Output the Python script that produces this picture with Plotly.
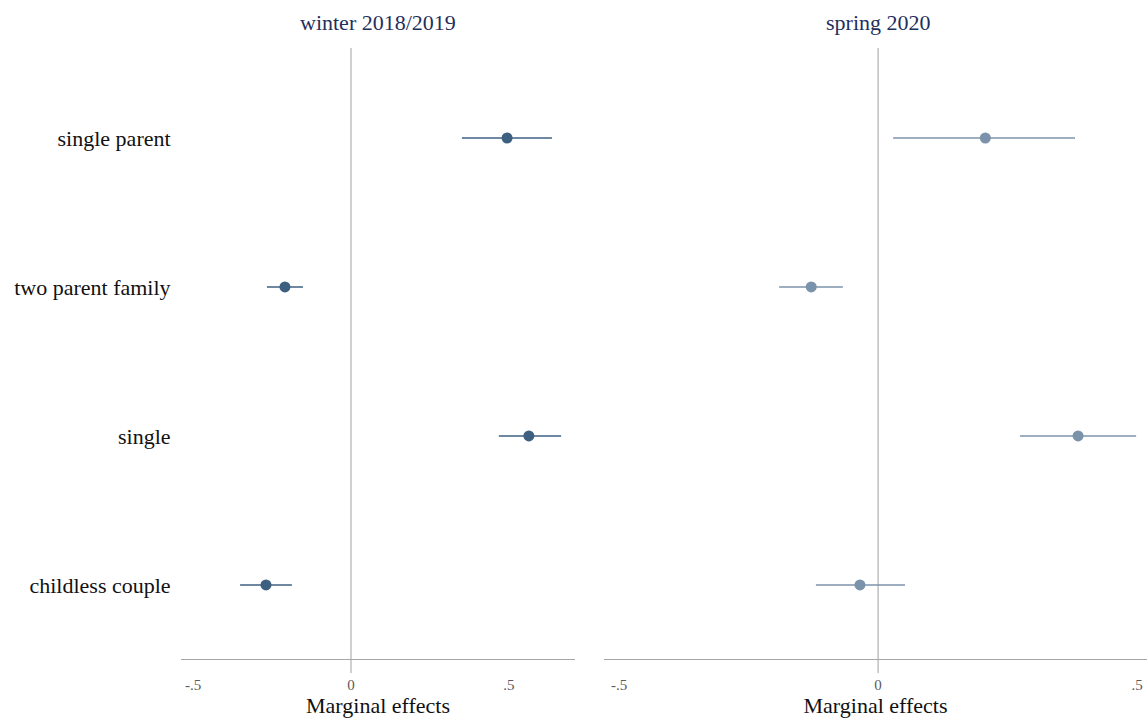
import plotly.graph_objects as go

categories = ["single parent", "two parent family", "single", "childless couple"]
cat_pos = [4, 3, 2, 1]

panels = ["winter 2018/2019", "spring 2020"]

winter_est = [0.494, -0.209, 0.563, -0.269]
winter_lo = [0.351, -0.266, 0.468, -0.351]
winter_hi = [0.636, -0.152, 0.665, -0.187]

spring_est = [0.207, -0.129, 0.386, -0.035]
spring_lo = [0.029, -0.191, 0.274, -0.120]
spring_hi = [0.380, -0.068, 0.498, 0.052]

tick_vals = [-0.5, 0, 0.5]
tick_text = ["-.5", "0", ".5"]

colors = ["#3d6080", "#7b93aa"]
FONT = "Liberation Serif"

fig = go.Figure()

data = [(winter_est, winter_lo, winter_hi), (spring_est, spring_lo, spring_hi)]
for i, (est, lo, hi) in enumerate(data):
    xa = "x" if i == 0 else "x2"
    fig.add_trace(go.Scatter(
        x=est, y=cat_pos, mode="markers",
        marker=dict(color=colors[i], size=11),
        error_x=dict(type="data", symmetric=False,
                     array=[h - e for h, e in zip(hi, est)],
                     arrayminus=[e - l for e, l in zip(est, lo)],
                     color=colors[i], thickness=1.6, width=0),
        xaxis=xa, yaxis="y", showlegend=False, hoverinfo="skip"))

W = 1147
H = 719
dom_left = [181 / W, 575 / W]
dom_right = [604 / W, 1.0]

common_x = dict(showgrid=False, zeroline=False, showline=True, linecolor="#a6a6a6",
                linewidth=1, tickvals=tick_vals, ticktext=tick_text,
                ticks="outside", ticklen=12, tickcolor="rgba(0,0,0,0)",
                tickfont=dict(family=FONT, size=15, color="#5a5a5a"),
                title=dict(text="Marginal effects", font=dict(family=FONT, size=22, color="#111111"),
                           standoff=0))

fig.update_layout(
    width=W, height=H,
    paper_bgcolor="white", plot_bgcolor="white",
    margin=dict(l=0, r=0, t=48, b=60),
    xaxis=dict(domain=dom_left, range=[-0.538, 0.709], anchor="y", **common_x),
    xaxis2=dict(domain=dom_right, range=[-0.529, 0.519], anchor="y", **common_x),
    yaxis=dict(range=[0.503, 4.604], showgrid=False, zeroline=False, showline=False,
               tickvals=cat_pos, ticktext=categories, ticks="outside", ticklen=5,
               tickcolor="rgba(0,0,0,0)",
               tickfont=dict(family=FONT, size=22, color="#111111")),
)

for xa in ["x", "x2"]:
    fig.add_shape(type="line", xref=xa, yref="paper", x0=0, x1=0, y0=-0.023, y1=1,
                  line=dict(color="#a0a0a0", width=1), layer="below")

for i, (name, dom) in enumerate(zip(panels, [dom_left, dom_right])):
    fig.add_annotation(text=name, xref="paper", x=(dom[0] + dom[1]) / 2 if i == 0 else 878 / W,
                       xanchor="center", yref="paper", y=1.0, yanchor="middle", yshift=26,
                       showarrow=False,
                       font=dict(family=FONT, size=22, color="#1f2f5c"))

fig.write_html("out.html", config={"displayModeBar": False},
               post_script="document.body.style.margin='0';document.body.style.overflow='hidden';")
